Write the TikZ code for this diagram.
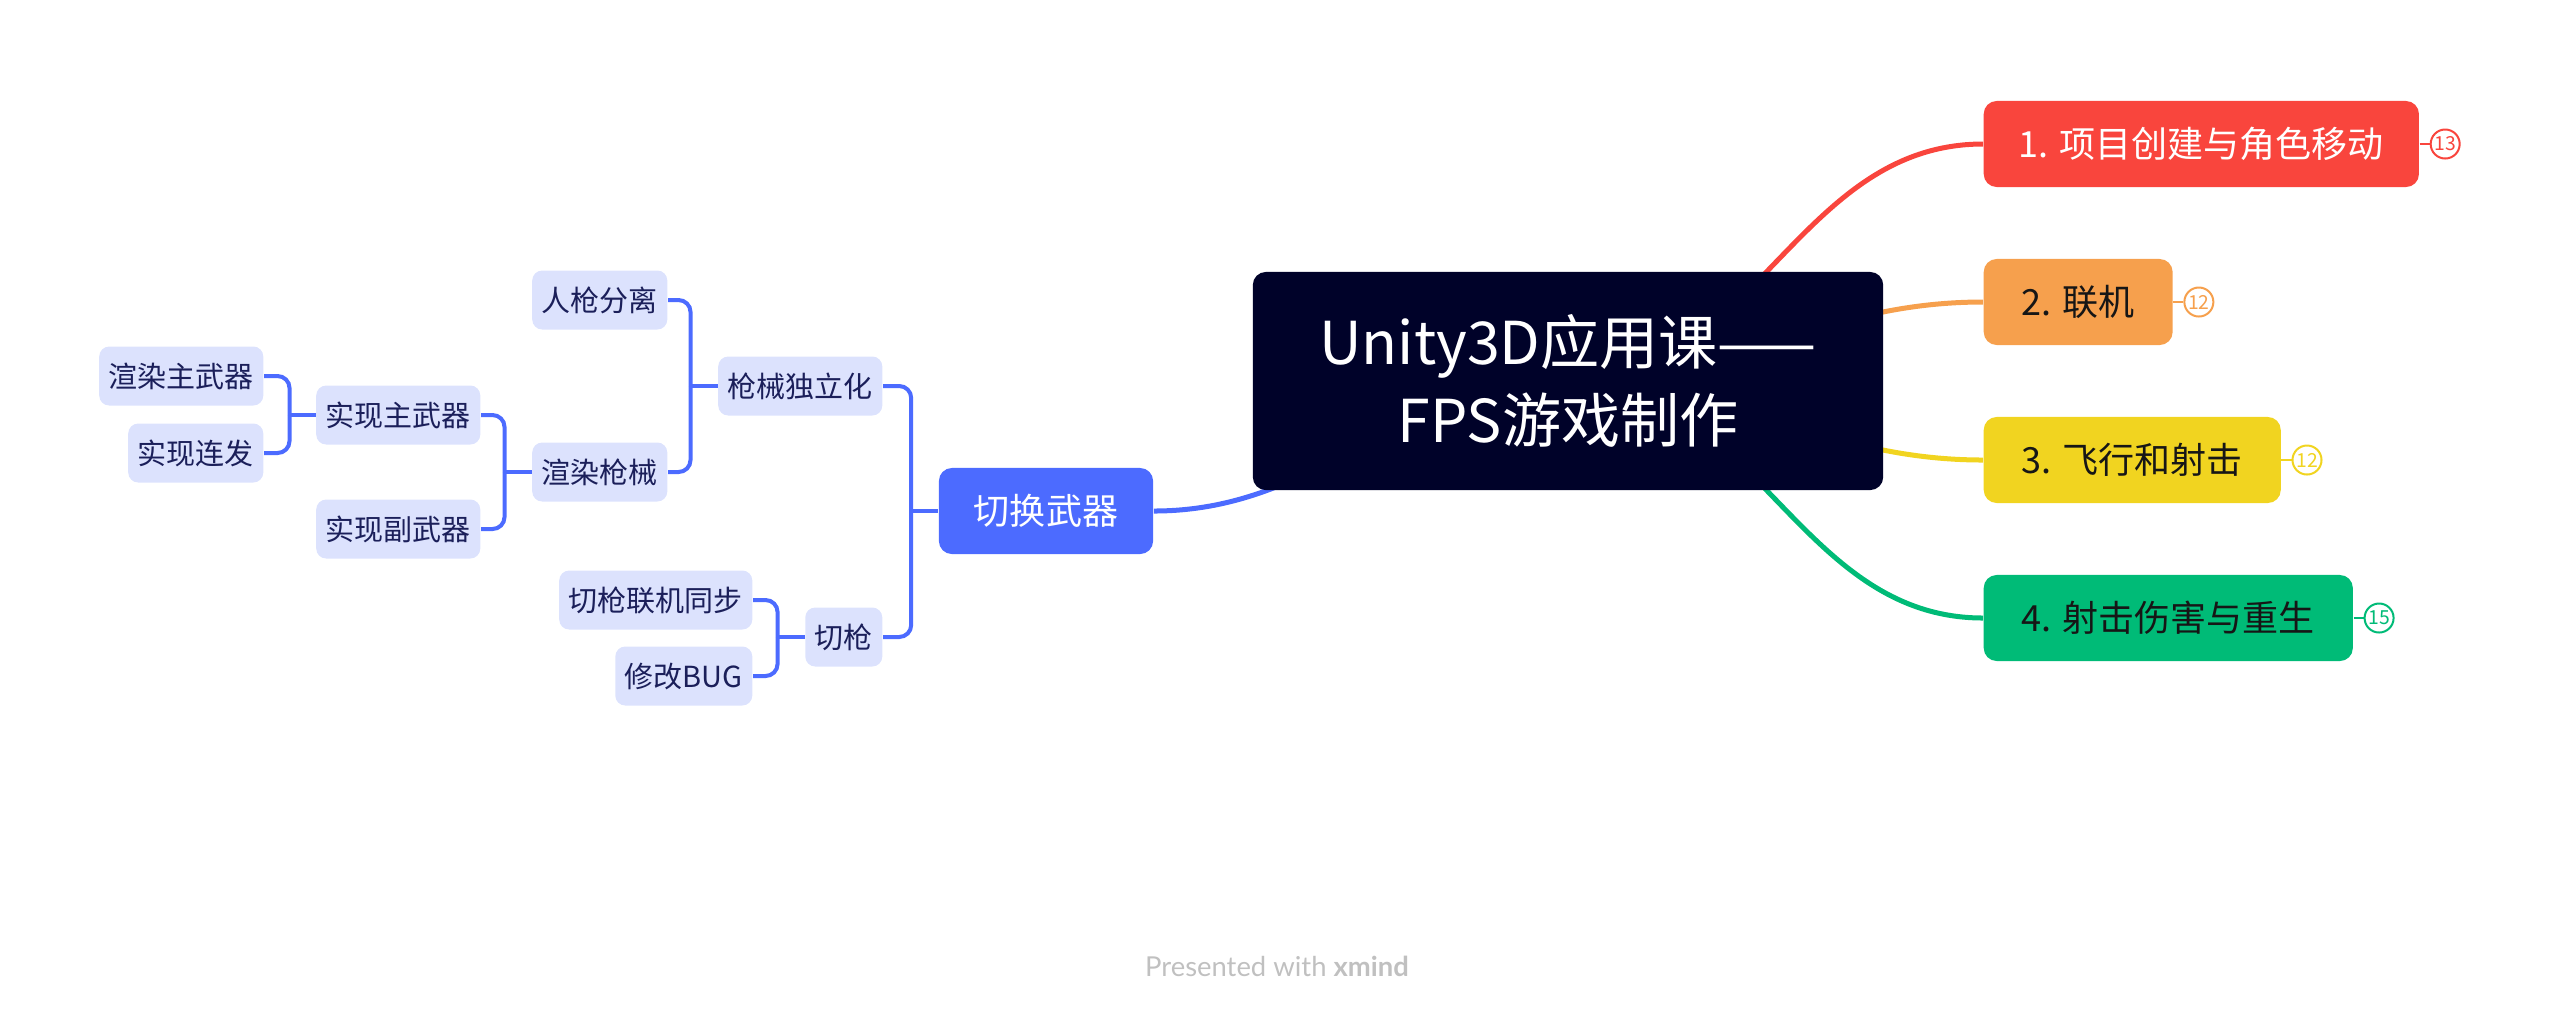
\documentclass[tikz,border=0pt]{standalone}
\usepackage{fontspec}
\setmainfont{Noto Sans CJK SC}
\newfontfamily\footfont{Lato}
\usetikzlibrary{positioning, calc}

\definecolor{rootbg}{HTML}{000229}
\definecolor{redtopic}{HTML}{F9453D}
\definecolor{orangetopic}{HTML}{F6A04D}
\definecolor{yellowtopic}{HTML}{F1D420}
\definecolor{greentopic}{HTML}{00BB77}
\definecolor{swblue}{HTML}{4C6BFF}
\definecolor{subbg}{HTML}{DCE2FD}
\definecolor{subtext}{HTML}{1B1F5A}
\definecolor{darktext}{HTML}{161616}
\definecolor{footgray}{HTML}{C0C0C0}

\pgfdeclarelayer{background}
\pgfsetlayers{background,main}

\tikzset{
    rootbox/.style={fill=rootbg, text=white, rounded corners=0.13cm, align=center,
        minimum width=6.3cm, minimum height=2.18cm, font=\fontsize{16.8}{22.2}\selectfont},
    topic/.style={rounded corners=0.13cm, minimum height=0.86cm, inner xsep=0.38cm,
        anchor=west, font=\fontsize{10.25}{12}\selectfont},
    subtopic/.style={fill=subbg, text=subtext, rounded corners=0.1cm, minimum height=0.59cm,
        inner xsep=0.095cm, anchor=east, font=\fontsize{8.25}{10}\selectfont},
    badge/.style={circle, draw, fill=white, line width=0.02cm, minimum size=0.29cm,
        inner sep=0pt, right=0.1cm of #1, font=\fontsize{5.5}{6}\selectfont},
    link/.style={line width=0.05cm},
    branch/.style={draw=swblue, line width=0.04cm, rounded corners=0.12cm},
}

\begin{document}
\begin{tikzpicture}[x=0.01cm, y=-0.01cm]
    \useasboundingbox (0,0) rectangle (2554,1020);

    % Central topic
    \node[rootbox] (root) at (1568,381) {Unity3D应用课——\\FPS游戏制作};

    % Main topics on the right
    \node[topic, fill=redtopic, text=white, inner xsep=0.35cm] (t1) at (1983,144) {1. 项目创建与角色移动};
    \node[topic, fill=orangetopic, text=darktext] (t2) at (1983,302) {2. 联机};
    \node[topic, fill=yellowtopic, text=darktext] (t3) at (1983,460) {3. 飞行和射击};
    \node[topic, fill=greentopic, text=darktext] (t4) at (1983,618) {4. 射击伤害与重生};

    % Counters
    \node[badge=t1, draw=redtopic, text=redtopic] (b1) {13};
    \node[badge=t2, draw=orangetopic, text=orangetopic] (b2) {12};
    \node[badge=t3, draw=yellowtopic, text=yellowtopic] (b3) {12};
    \node[badge=t4, draw=greentopic, text=greentopic] (b4) {15};
    \draw[redtopic, line width=0.02cm] (t1.east) -- (b1.west);
    \draw[orangetopic, line width=0.02cm] (t2.east) -- (b2.west);
    \draw[yellowtopic, line width=0.02cm] (t3.east) -- (b3.west);
    \draw[greentopic, line width=0.02cm] (t4.east) -- (b4.west);

    % Left branch
    \node[topic, anchor=center, fill=swblue, text=white, inner xsep=0.35cm] (sw) at (1046,511) {切换武器};

    \node[subtopic] (indep) at (883,386) {枪械独立化};
    \node[subtopic] (swap) at (883,637) {切枪};
    \node[subtopic] (split) at (668,300) {人枪分离};
    \node[subtopic] (render) at (668,472) {渲染枪械};
    \node[subtopic] (mainw) at (481,415) {实现主武器};
    \node[subtopic] (secw) at (481,529) {实现副武器};
    \node[subtopic] (rmain) at (264,376) {渲染主武器};
    \node[subtopic] (burst) at (264,453) {实现连发};
    \node[subtopic] (sync) at (753,600) {切枪联机同步};
    \node[subtopic] (bug) at (753,676) {修改BUG};

    % Junctions
    \coordinate (jsw) at ($(sw.west)+(-27,0)$);
    \coordinate (jindep) at ($(indep.west)+(-27,0)$);
    \coordinate (jrender) at ($(render.west)+(-27,0)$);
    \coordinate (jmainw) at ($(mainw.west)+(-26,0)$);
    \coordinate (jswap) at ($(swap.west)+(-27,0)$);

    \draw[branch] (sw.west) -- (jsw);
    \draw[branch] (indep.east) -| (jsw);
    \draw[branch] (swap.east) -| (jsw);

    \draw[branch] (indep.west) -- (jindep);
    \draw[branch] (split.east) -| (jindep);
    \draw[branch] (render.east) -| (jindep);

    \draw[branch] (render.west) -- (jrender);
    \draw[branch] (mainw.east) -| (jrender);
    \draw[branch] (secw.east) -| (jrender);

    \draw[branch] (mainw.west) -- (jmainw);
    \draw[branch] (rmain.east) -| (jmainw);
    \draw[branch] (burst.east) -| (jmainw);

    \draw[branch] (swap.west) -- (jswap);
    \draw[branch] (sync.east) -| (jswap);
    \draw[branch] (bug.east) -| (jswap);

    % Curved links behind the central topic
    \begin{pgfonlayer}{background}
        \draw[link, redtopic] (root.center) to[out=0, in=180] (t1.west);
        \draw[link, orangetopic] (root.center) to[out=0, in=180] (t2.west);
        \draw[link, yellowtopic] (root.center) to[out=0, in=180] (t3.west);
        \draw[link, greentopic] (root.center) to[out=0, in=180] (t4.west);
        \draw[link, swblue] (root.center) to[out=180, in=0] (sw.east);
    \end{pgfonlayer}

    % Footer
    \node[text=footgray, font=\footfont\fontsize{7.8}{9}\selectfont] (foot) at (1277,966) {Presented with \textbf{xmind}};
\end{tikzpicture}
\end{document}
